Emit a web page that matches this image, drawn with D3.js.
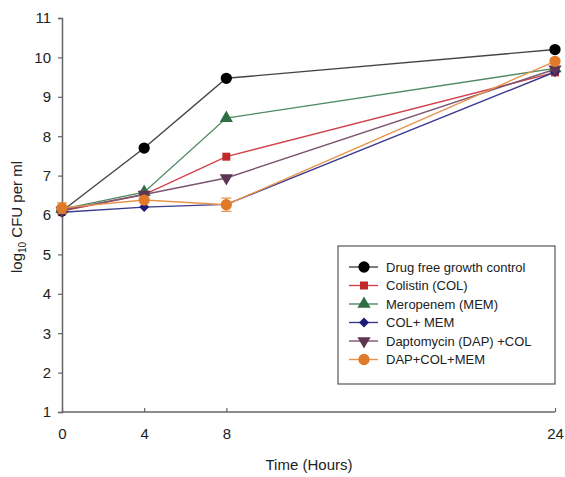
<!DOCTYPE html>
<html>
<head>
<meta charset="utf-8">
<script src="https://cdn.jsdelivr.net/npm/d3@7"></script>
<style>
  body { margin: 0; background: #fff; }
  svg text { font-family: "Liberation Sans", Arial, sans-serif; fill: #222; }
</style>
</head>
<body>
<div id="chart"></div>
<script>
const hours = [0, 4, 8, 24];
const yTicks = [1, 2, 3, 4, 5, 6, 7, 8, 9, 10, 11];

const seriesNames = [
  "Drug free growth control",
  "Colistin (COL)",
  "Meropenem (MEM)",
  "COL+ MEM",
  "Daptomycin (DAP) +COL",
  "DAP+COL+MEM"
];
const control = [6.1, 7.7, 9.47, 10.2];
const colistin = [6.1, 6.52, 7.48, 9.62];
const meropenem = [6.15, 6.58, 8.46, 9.72];
const colMem = [6.07, 6.2, 6.27, 9.63];
const dapCol = [6.12, 6.52, 6.94, 9.7];
const dapColMem = [6.18, 6.38, 6.26, 9.9];
const dapColMemErr = [0.13, 0.05, 0.17, 0.05];

const colors = ["#000000", "#c1272d", "#2f6e45", "#1c1c78", "#5e3552", "#e07a28"];
const lineColors = ["#444444", "#d0424a", "#4e8a63", "#3a3a8e", "#7a5670", "#e8944c"];
// symbol kind per series; rotation in degrees
const symbols = [d3.symbolCircle, d3.symbolSquare, d3.symbolTriangle, d3.symbolSquare, d3.symbolTriangle, d3.symbolCircle];
const symRotate = [0, 0, 0, 45, 180, 0];
const symSizes = [100, 64, 75, 50, 75, 100];

const allValues = [control, colistin, meropenem, colMem, dapCol, dapColMem];
const series = seriesNames.map((name, i) => ({
  name,
  i,
  valores: hours.map((h, j) => ({
    h,
    v: allValues[i][j],
    err: i === 5 ? dapColMemErr[j] : 0
  }))
}));

const margin = { top: 18, right: 10, bottom: 65, left: 62 },
      width = 555 - margin.left,
      height = 412 - margin.top;

const svg = d3.select("#chart")
  .append("svg")
    .attr("width", 565)
    .attr("height", 477)
  .append("g")
    .attr("transform", `translate(${margin.left},${margin.top})`);

const x = d3.scaleLinear().domain([0, 24]).range([0, width]);
const y = d3.scaleLinear().domain([1, 11]).range([height, 0]);

// axes
const yAxis = svg.append("g")
  .call(d3.axisLeft(y).tickValues(yTicks).tickSize(4).tickPadding(7).tickFormat(d3.format("d")));
const xAxis = svg.append("g")
  .attr("transform", `translate(0,${height})`)
  .call(d3.axisBottom(x).tickValues(hours).tickSize(-4).tickPadding(16));

[yAxis, xAxis].forEach(a => {
  a.select(".domain").attr("stroke", "#666").attr("stroke-width", 1.5);
  a.selectAll(".tick line").attr("stroke", "#666").attr("stroke-width", 1.2);
  a.selectAll(".tick text").style("font-size", "15px").attr("fill", "#222");
});
xAxis.select(".domain").attr("d", `M0,0H${width}`);
xAxis.selectAll(".tick line").attr("y1", 0).attr("y2", -4);

// axis titles
svg.append("text")
  .attr("x", 247)
  .attr("y", height + 58)
  .attr("text-anchor", "middle")
  .style("font-size", "15px")
  .text("Time (Hours)");

const yTitle = svg.append("text")
  .attr("transform", `translate(-40,${y(6) + 2}) rotate(-90)`)
  .attr("text-anchor", "middle")
  .style("font-size", "15px");
yTitle.append("tspan").text("log");
yTitle.append("tspan").attr("dy", 4).style("font-size", "10px").text("10");
yTitle.append("tspan").attr("dy", -4).text(" CFU per ml");

const linea = d3.line()
  .x(d => x(d.h))
  .y(d => y(d.v));

const symbolPath = i => d3.symbol(symbols[i], symSizes[i])();
const symTransform = (i, px, py) => `translate(${px},${py})` + (symRotate[i] ? ` rotate(${symRotate[i]})` : "");

const grupo = svg.selectAll(".serie")
  .data(series)
  .join("g")
  .attr("class", "serie");

grupo.append("path")
  .attr("fill", "none")
  .attr("stroke", d => lineColors[d.i])
  .attr("stroke-width", 1.4)
  .attr("d", d => linea(d.valores));

// error bars
grupo.selectAll(".err")
  .data(d => d.valores.filter(v => v.err > 0.08).map(v => ({ ...v, i: d.i })))
  .join("path")
  .attr("class", "err")
  .attr("fill", "none")
  .attr("stroke", d => lineColors[d.i])
  .attr("stroke-width", 1.2)
  .attr("d", d => {
    const cx = x(d.h), y0 = y(d.v - d.err), y1 = y(d.v + d.err);
    return `M${cx - 5},${y0}H${cx + 5}M${cx},${y0}V${y1}M${cx - 5},${y1}H${cx + 5}`;
  });

grupo.selectAll(".pt")
  .data(d => d.valores.map(v => ({ ...v, i: d.i })))
  .join("path")
  .attr("class", "pt")
  .attr("transform", d => symTransform(d.i, x(d.h), y(d.v)))
  .attr("d", d => symbolPath(d.i))
  .attr("fill", d => colors[d.i]);

// legend
const lg = svg.append("g")
  .attr("transform", `translate(${338 - margin.left},${246 - margin.top})`);
lg.append("rect")
  .attr("width", 217)
  .attr("height", 138)
  .attr("fill", "#fff")
  .attr("stroke", "#555")
  .attr("stroke-width", 1.2);

const item = lg.selectAll(".item")
  .data(series)
  .join("g")
  .attr("class", "item")
  .attr("transform", (d, i) => `translate(0,${21 + i * 18.5})`);

item.append("line")
  .attr("x1", 11).attr("x2", 40)
  .attr("stroke", d => lineColors[d.i])
  .attr("stroke-width", 1.4);
item.append("path")
  .attr("transform", d => symTransform(d.i, 26, 0))
  .attr("d", d => symbolPath(d.i))
  .attr("fill", d => colors[d.i]);
item.append("text")
  .attr("x", 48)
  .attr("dy", "0.35em")
  .style("font-size", "13px")
  .text(d => d.name);
</script>
</body>
</html>
